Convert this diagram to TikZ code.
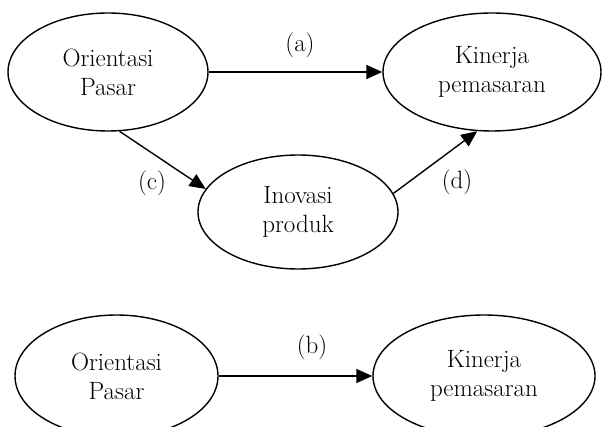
\documentclass[tikz,border=0pt]{standalone}
\usetikzlibrary{shapes.geometric,arrows.meta}
\begin{document}
\begin{tikzpicture}[x=1pt,y=-1pt,
  oval/.style={ellipse,draw,line width=1.4pt,inner sep=0pt,align=center,
    font=\fontsize{25}{29}\selectfont},
  conn/.style={line width=1.4pt,-{Triangle[length=16pt,width=14pt]}},
  lbl/.style={font=\fontsize{25}{29}\selectfont,inner sep=0pt}]
\useasboundingbox (0,0) rectangle (602,427);
\clip (0,0) rectangle (602,427);
\node[oval,minimum width=200pt,minimum height=118pt] (op1) at (108,72) {Orientasi\\Pasar};
\node[oval,minimum width=218pt,minimum height=118pt] (kp1) at (492,72) {Kinerja\\pemasaran};
\node[oval,minimum width=200pt,minimum height=114pt] (ip) at (298,212) {Inovasi\\produk};
\node[oval,minimum width=203pt,minimum height=122pt] (op2) at (116.5,376) {Orientasi\\Pasar};
\node[oval,minimum width=222pt,minimum height=122pt] (kp2) at (484,376) {Kinerja\\pemasaran};
\draw[conn] (op1.east) -- (kp1.west);
\draw[conn] (op1.281.5) -- (ip.166.6);
\draw[conn] (ip.11) -- (kp1.256);
\draw[conn] (op2.east) -- (kp2.west);
\node[lbl] (la) at (300,45) {(a)};
\node[lbl] (lc) at (152,183) {(c)};
\node[lbl] (ld) at (457,182) {(d)};
\node[lbl] (lb) at (312,347) {(b)};
\end{tikzpicture}
\end{document}
